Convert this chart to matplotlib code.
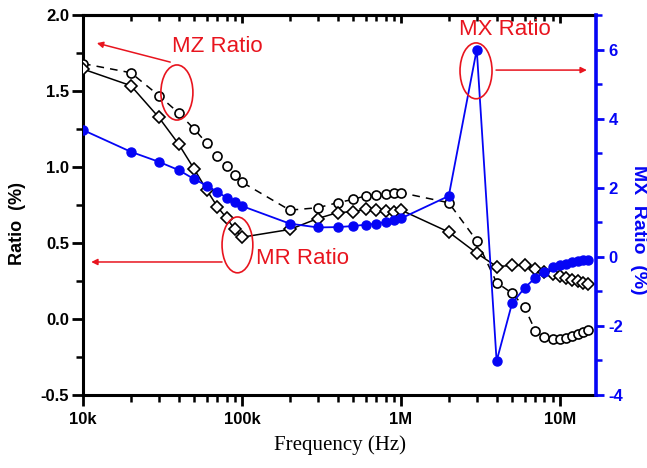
import matplotlib
matplotlib.use('Agg')
import matplotlib.pyplot as plt
from matplotlib.patches import Ellipse
from matplotlib.ticker import FixedLocator, LogLocator, MultipleLocator, NullFormatter

# ---------------- data ----------------
freq_hz = [1e4, 2e4, 3e4, 4e4, 5e4, 6e4, 7e4, 8e4, 9e4,
           1e5, 2e5, 3e5, 4e5, 5e5, 6e5, 7e5, 8e5, 9e5,
           1e6, 2e6, 3e6, 4e6, 5e6, 6e6, 7e6, 8e6, 9e6,
           1e7, 1.1e7, 1.2e7, 1.3e7, 1.4e7, 1.5e7]

mz_ratio = [1.68, 1.62, 1.47, 1.355, 1.25, 1.157, 1.075, 1.009, 0.948,
            0.90, 0.716, 0.732, 0.765, 0.787, 0.81, 0.816, 0.82, 0.827,
            0.831, 0.765, 0.515, 0.24, 0.17, 0.077, -0.077, -0.121, -0.134,
            -0.134, -0.127, -0.112, -0.099, -0.086, -0.073]

mr_ratio = [1.644, 1.535, 1.326, 1.150, 0.987, 0.849, 0.739, 0.664, 0.591,
            0.538, 0.589, 0.661, 0.700, 0.706, 0.721, 0.72, 0.71, 0.706,
            0.717, 0.572, 0.433, 0.345, 0.352, 0.352, 0.33, 0.31, 0.297,
            0.284, 0.269, 0.258, 0.248, 0.24, 0.231]

mx_ratio = [3.67, 3.04, 2.75, 2.51, 2.25, 2.06, 1.88, 1.71, 1.59,
            1.47, 0.96, 0.85, 0.86, 0.89, 0.93, 0.96, 1.01, 1.06,
            1.11, 1.76, 6.0, -3.02, -1.35, -0.90, -0.61, -0.44, -0.30,
            -0.25, -0.20, -0.16, -0.13, -0.10, -0.08]

xtick_values = [1e4, 1e5, 1e6, 1e7]
xtick_labels = ['10k', '100k', '1M', '10M']
left_ticks = [-0.5, 0.0, 0.5, 1.0, 1.5, 2.0]
right_ticks = [-4, -2, 0, 2, 4, 6]

# ---------------- style ----------------
plt.rcParams['font.family'] = ['Liberation Sans', 'DejaVu Sans']
BLUE = '#0505f5'
RED = '#e8141e'

fig = plt.figure(figsize=(6.47, 4.68), dpi=100)
ax = fig.add_axes([0.1283, 0.156, 0.793, 0.812])
ax.set_xscale('log')

ax.plot(freq_hz, mz_ratio, color='black', lw=1.1, dashes=(5, 4),
        marker='o', ms=6.5, mfc='white', mec='black', mew=1.2, zorder=3)
ax.plot(freq_hz, mr_ratio, color='black', lw=1.1, ls='-',
        marker='D', ms=6.0, mfc='white', mec='black', mew=1.2, zorder=3)

ax.set_xlim(1e4, 1.69e7)
ax.set_ylim(-0.5, 2.0)

ax.xaxis.set_major_locator(FixedLocator(xtick_values))
ax.set_xticklabels(xtick_labels)
ax.xaxis.set_minor_locator(LogLocator(base=10, subs=[2, 3, 4, 5, 6, 7, 8, 9], numticks=20))
ax.xaxis.set_minor_formatter(NullFormatter())
ax.set_yticks(left_ticks)
ax.set_yticklabels([f'{v:.1f}' for v in left_ticks])
ax.yaxis.set_minor_locator(MultipleLocator(0.25))

ax.tick_params(axis='x', which='major', direction='out', length=8, width=2,
               top=False, pad=4, labelsize=12)
ax.tick_params(axis='x', which='minor', direction='out', length=5, width=1.8, top=False)
ax.tick_params(axis='y', which='major', direction='out', length=8, width=2,
               right=False, pad=2, labelsize=12)
ax.tick_params(axis='y', which='minor', direction='out', length=5, width=1.8, right=False)
for lab in ax.get_xticklabels() + ax.get_yticklabels():
    lab.set_fontweight('bold')

for s in ['left', 'bottom', 'top']:
    ax.spines[s].set_linewidth(2.2)
ax.spines['right'].set_visible(False)

# top axis with inward ticks
sec = ax.secondary_xaxis('top')
sec.xaxis.set_major_locator(FixedLocator(xtick_values))
sec.xaxis.set_minor_locator(LogLocator(base=10, subs=[2, 3, 4, 5, 6, 7, 8, 9], numticks=20))
sec.tick_params(axis='x', which='major', direction='in', length=6, width=2, labeltop=False)
sec.tick_params(axis='x', which='minor', direction='in', length=4, width=1.8, labeltop=False)
sec.xaxis.set_minor_formatter(NullFormatter())
sec.spines['top'].set_linewidth(2.2)

ax.set_xlabel('Frequency (Hz)', family=['Liberation Serif', 'DejaVu Serif'], fontsize=15)
ax.xaxis.set_label_coords(0.5, -0.105)
ax.set_ylabel('Ratio  (%)', fontsize=13, fontweight='bold')
ax.yaxis.set_label_coords(-0.112, 0.45)

# right axis (MX ratio)
ax2 = ax.twinx()
ax2.plot(freq_hz, mx_ratio, color=BLUE, lw=1.3, marker='o', ms=6.5,
         mfc=BLUE, mec=BLUE, zorder=4)
ax2.set_ylim(-4, 7)
ax2.set_yticks(right_ticks)
ax2.set_yticklabels([str(v) for v in right_ticks])
ax2.yaxis.set_minor_locator(MultipleLocator(1))
ax2.tick_params(axis='y', which='major', direction='out', length=6, width=2,
                colors=BLUE, labelsize=12, pad=3)
ax2.tick_params(axis='y', which='minor', direction='out', length=4, width=1.8, colors=BLUE)
for lab in ax2.get_yticklabels():
    lab.set_fontweight('bold')
for s in ['left', 'bottom', 'top']:
    ax2.spines[s].set_visible(False)
ax2.spines['right'].set_linewidth(2.6)
ax2.spines['right'].set_color(BLUE)
ax2.set_ylabel('MX  Ratio  (%)', fontsize=14, fontweight='bold', color=BLUE,
               rotation=270, va='bottom')
ax2.yaxis.set_label_coords(1.066, 0.434)

# ---------------- annotations ----------------
tr = ax2.transAxes
ann_kw = dict(color=RED, fontsize=16, ha='center', va='center', transform=tr)
ax2.text(0.261, 0.916, 'MZ Ratio', **ann_kw)
ax2.text(0.823, 0.963, 'MX Ratio', **ann_kw)
ax2.text(0.427, 0.358, 'MR Ratio', **ann_kw)

for (cx, cy, w, h) in [(0.183, 0.796, 0.0624, 0.145),
                       (0.766, 0.853, 0.0624, 0.147),
                       (0.301, 0.395, 0.060, 0.147)]:
    ax2.add_patch(Ellipse((cx, cy), w, h, transform=tr, fill=False,
                          edgecolor=RED, lw=1.2, zorder=6, clip_on=False))

arrow = dict(arrowstyle='-|>', color=RED, lw=1.1, mutation_scale=9,
             shrinkA=0, shrinkB=0)
ax2.annotate('', xy=(0.027, 0.926), xytext=(0.170, 0.876),
             xycoords=tr, textcoords=tr, arrowprops=arrow)
ax2.annotate('', xy=(0.016, 0.350), xytext=(0.271, 0.350),
             xycoords=tr, textcoords=tr, arrowprops=arrow)
ax2.annotate('', xy=(0.982, 0.855), xytext=(0.805, 0.855),
             xycoords=tr, textcoords=tr, arrowprops=arrow)

fig.savefig('out.png', dpi=100)
